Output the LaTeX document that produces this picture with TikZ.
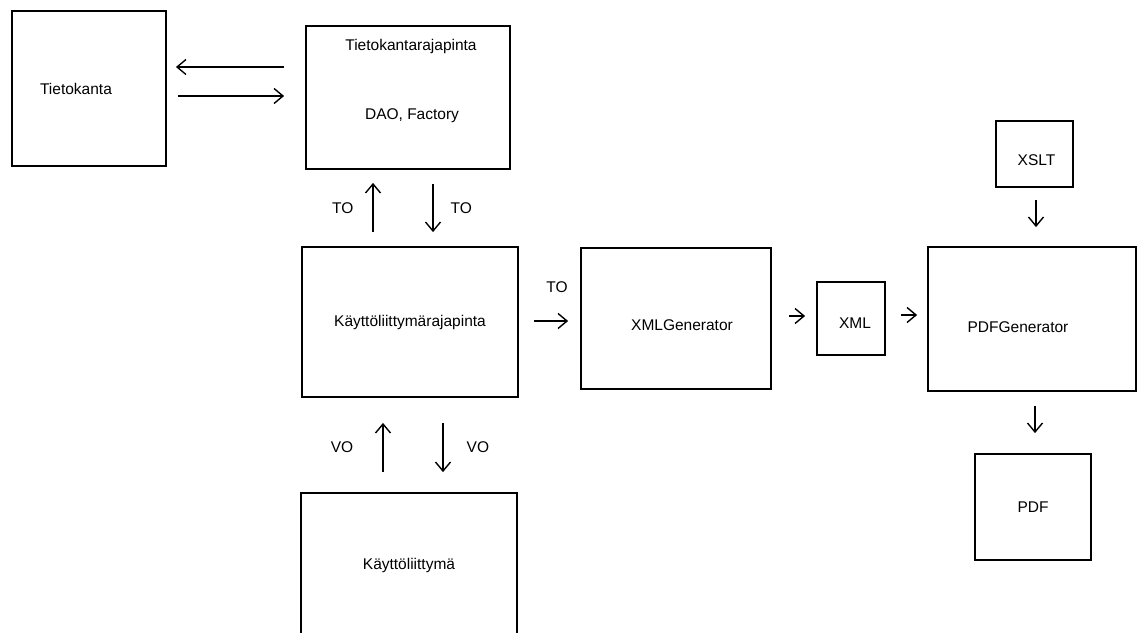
\documentclass[tikz,border=0pt]{standalone}
\usepackage{fontspec}
\setmainfont{Liberation Sans}
\usetikzlibrary{arrows.meta,positioning}
\tikzset{
    block/.style 2 args={draw, line width=1.8pt, inner sep=0pt, minimum width=#1, minimum height=#2},
    flow/.style={line width=1.4pt, -{Straight Barb[length=9pt,width=15pt]}},
    el/.style={inner sep=0pt}
}

\begin{document}
\begin{tikzpicture}[x=1pt, y=-1pt, font=\fontsize{15.5}{18}\selectfont]
      \useasboundingbox (0,0) rectangle (1137,632);
      \clip (0,0) rectangle (1137,632);

      \node[block={154pt}{155pt}, label={[xshift=-13pt]center:Tietokanta}] (db) at (89,88.5) {};
      \node[block={204pt}{143pt},
            label={[anchor=center, xshift=3pt, yshift=-21pt]north:Tietokantarajapinta},
            label={[xshift=4pt, yshift=-18.5pt]center:{DAO, Factory}}] (dbapi) at (408,97.5) {};
      \node[block={216pt}{150pt}] (uiapi) at (410,322) {Käyttöliittymärajapinta};
      \node[block={216pt}{144pt}] (ui) at (409,565) {Käyttöliittymä};
      \node[block={190pt}{141pt}, label={[xshift=6pt, yshift=-6.5pt]center:XMLGenerator}] (xmlgen) at (676,318.5) {};
      \node[block={68pt}{73pt}, label={[xshift=4pt, yshift=-4.5pt]center:XML}] (xml) at (851,318.5) {};
      \node[block={208pt}{144pt}, label={[xshift=-14pt, yshift=-8pt]center:PDFGenerator}] (pdfgen) at (1032,319) {};
      \node[block={77pt}{66pt}, label={[xshift=2pt, yshift=-6pt]center:XSLT}] (xslt) at (1034.5,154) {};
      \node[block={116pt}{106pt}] (pdf) at (1033,507) {PDF};

      % database <-> database interface
      \path[flow, shorten <=21pt, shorten >=9pt] ([yshift=30.5pt]dbapi.west) edge ([yshift=21.5pt]db.east);
      \path[flow, shorten <=11pt, shorten >=21pt] ([yshift=-7.5pt]db.east) edge ([yshift=1.5pt]dbapi.west);

      % transfer objects
      \path[flow, shorten <=14pt, shorten >=13pt] ([xshift=-37pt]uiapi.north) edge node[left=19pt, el] {TO} ([xshift=-35pt]dbapi.south);
      \path[flow, shorten <=14pt, shorten >=14pt] ([xshift=25pt]dbapi.south) edge node[right=17pt, el] {TO} ([xshift=23pt]uiapi.north);

      % view objects
      \path[flow, shorten <=20pt, shorten >=25pt] ([xshift=-26pt]ui.north) edge node[left=29pt, yshift=-2.5pt, el] {VO} ([xshift=-27pt]uiapi.south);
      \path[flow, shorten <=25pt, shorten >=20pt] ([xshift=33pt]uiapi.south) edge node[right=23pt, yshift=-2.5pt, el] {VO} ([xshift=34pt]ui.north);

      % generation chain
      \path[flow, shorten <=15pt, shorten >=12pt] ([yshift=1pt]uiapi.east) edge node[above=27.5pt, xshift=7.5pt, el] {TO} ([yshift=-2.5pt]xmlgen.west);
      \path[flow, shorten <=17pt, shorten >=11pt] ([yshift=2.5pt]xmlgen.east) edge ([yshift=2.5pt]xml.west);
      \path[flow, shorten <=15pt, shorten >=10pt] ([yshift=3.5pt]xml.east) edge ([yshift=4pt]pdfgen.west);
      \path[flow, shorten <=12pt, shorten >=19pt] ([xshift=1.5pt]xslt.south) edge ([xshift=4pt]pdfgen.north);
      \path[flow, shorten <=14pt, shorten >=20pt] ([xshift=3pt]pdfgen.south) edge ([xshift=2pt]pdf.north);
\end{tikzpicture}
\end{document}
